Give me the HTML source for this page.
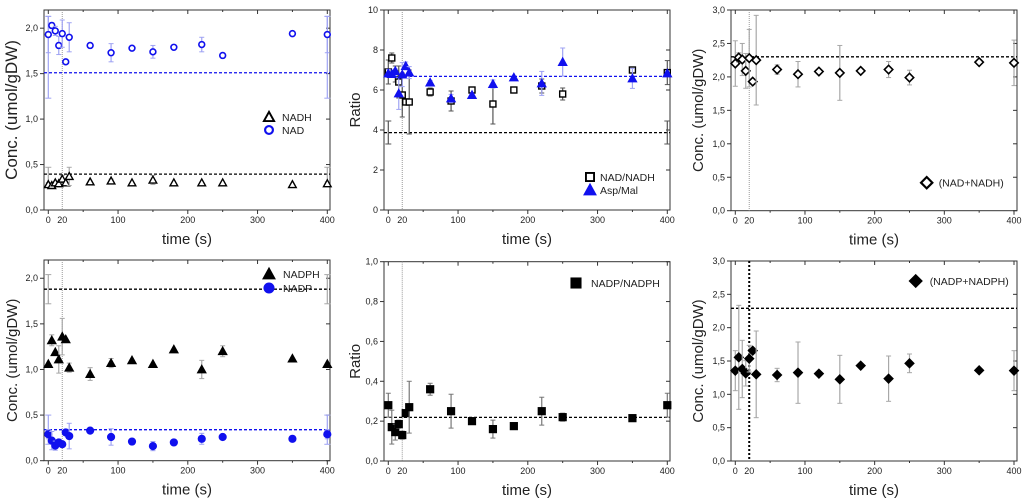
<!DOCTYPE html>
<html><head><meta charset="utf-8"><style>
html,body{margin:0;padding:0;background:#fff;}
svg{display:block;font-family:"Liberation Sans",sans-serif;}
</style></head><body>
<svg id="fig" width="1024" height="499" viewBox="0 0 1024 499" xmlns="http://www.w3.org/2000/svg"></svg>
<script>
const times=[0,5,10,15,20,25,30,60,90,120,150,180,220,250,350,400];
const xTicks=[0,20,100,200,300,400];
const nad=[1.93,2.03,1.97,1.81,1.94,1.63,1.90,1.81,1.73,1.78,1.74,1.79,1.82,1.70,1.94,1.93];
const nadErr=[0.2,0.03,0.05,0.1,0.15,0,0.16,0.02,0.1,0.02,0.07,0.02,0.08,0,0,0.2];
const nadh=[0.28,0.27,0.30,0.29,0.34,0.30,0.37,0.31,0.32,0.30,0.33,0.30,0.30,0.30,0.28,0.29];
const nadhErr=[0.02,0,0.01,0,0.04,0,0.1,0,0.02,0,0.05,0,0,0,0,0.02];
const nadRatio=[6.9,7.6,6.8,6.4,5.75,5.4,5.4,5.9,5.45,6.0,5.3,6.0,6.2,5.8,7.0,6.87];
const nadRatioErr=[0.6,0.25,0.4,0.8,1.1,0,1.6,0.2,0.5,0.1,1.0,0,0.35,0.3,0,0.6];
const aspMal=[6.83,6.8,6.95,5.83,6.77,7.2,6.87,6.37,5.58,5.75,6.3,6.63,6.33,7.4,6.58,6.83];
const aspMalErr=[0.2,0,0.1,0.8,0.6,0.2,0.3,0.1,0.2,0,0.2,0,0.6,0.7,0.5,0.1];
const nadSum=[2.20,2.29,2.26,2.09,2.28,1.93,2.25,2.11,2.04,2.08,2.06,2.09,2.11,1.99,2.22,2.21];
const nadSumErr=[0.34,0.07,0.24,0.26,0.43,0,0.67,0.07,0.19,0,0.41,0,0.12,0.11,0,0.34];
const nadph=[1.06,1.32,1.19,1.11,1.36,1.33,1.02,0.95,1.07,1.10,1.06,1.22,1.00,1.20,1.12,1.06];
const nadphErr=[0,0.06,0,0.15,0.2,0,0.05,0.07,0.05,0,0,0,0.1,0.06,0,0];
const nadp=[0.29,0.22,0.165,0.2,0.18,0.31,0.27,0.33,0.26,0.21,0.16,0.2,0.24,0.26,0.24,0.29];
const nadpErr=[0.05,0.1,0.05,0,0,0.02,0.14,0,0.09,0,0.05,0,0.06,0,0,0.05];
const nadpRatio=[0.28,0.17,0.145,0.185,0.13,0.24,0.27,0.36,0.25,0.2,0.16,0.175,0.25,0.22,0.215,0.28];
const nadpRatioErr=[0.06,0.085,0.04,0.02,0.02,0,0.13,0.03,0.085,0,0.045,0,0.07,0.02,0,0.06];
const nadpSum=[1.355,1.555,1.38,1.315,1.535,1.655,1.3,1.29,1.325,1.31,1.225,1.43,1.235,1.465,1.36,1.355];
const nadpSumErr=[0.3,0.78,0.43,0.19,0.2,0,0.65,0.1,0.46,0,0.36,0,0.34,0.14,0,0.3];

const NS="http://www.w3.org/2000/svg";
const fig=document.getElementById('fig');
function mk(tag,attrs,parent){const e=document.createElementNS(NS,tag);for(const k in attrs)e.setAttribute(k,attrs[k]);(parent||fig).appendChild(e);return e;}

function marker(g,shape,cx,cy,col,fill){
  let e;
  if(shape==='tri'){const s=fill?4.3:3.8;e=mk('polygon',{points:`${cx},${cy-s} ${cx-s},${cy+s*0.8} ${cx+s},${cy+s*0.8}`,fill:fill?col:'#fff',stroke:col,'stroke-width':fill?1:1.4},g);}
  else if(shape==='circ'){e=mk('circle',{cx:cx,cy:cy,r:fill?3.6:2.9,fill:fill?col:'#fff',stroke:col,'stroke-width':fill?1:1.6},g);}
  else if(shape==='sq'){const s=fill?3.6:3;e=mk('rect',{x:cx-s,y:cy-s,width:2*s,height:2*s,fill:fill?col:'#fff',stroke:col,'stroke-width':fill?1:1.4},g);}
  else {const s=fill?4.6:4.2;e=mk('polygon',{points:`${cx},${cy-s} ${cx+s},${cy} ${cx},${cy+s} ${cx-s},${cy}`,fill:fill?col:'#fff',stroke:col,'stroke-width':fill?1:1.6},g);}
  return e;
}

function panel(cfg){
  const g=mk('g',{});
  
  
  const X=t=>cfg.x0+(cfg.x4-cfg.x0)*t/400;
  const Y=v=>cfg.bot-(cfg.bot-cfg.top)*v/cfg.ymax;
  const fr=mk('rect',{x:cfg.left,y:cfg.top,width:cfg.right-cfg.left,height:cfg.bot-cfg.top,fill:'none',stroke:'#333','stroke-width':1},g);
  
  
  const vl=mk('line',{x1:X(20),x2:X(20),y1:cfg.top,y2:cfg.bot,stroke:cfg.vlCol||'#999','stroke-width':cfg.vlW||1,'stroke-dasharray':cfg.vlW?'2,2':'1,1'},g);
  
  
  for(let t=0;t<=400;t+=50){
    const maj=t%100===0;
    mk('line',{x1:X(t),x2:X(t),y1:cfg.bot,y2:cfg.bot+(maj?4:2),stroke:'#333'},g);
    mk('line',{x1:X(t),x2:X(t),y1:cfg.top,y2:cfg.top+(maj?4:2),stroke:'#333'},g);
  }
  xTicks.forEach(t=>{
    const tx=mk('text',{x:X(t),y:cfg.bot+13,'font-size':9,'text-anchor':'middle',fill:'#222'},g);
    tx.textContent=t;
    
    
  });
  const n=Math.round(cfg.ymax/cfg.ystep+1e-6);
  for(let i=0;i<=n;i++){
    const v=i*cfg.ystep;const y=Y(v);
    mk('line',{x1:cfg.left-4,x2:cfg.left,y1:y,y2:y,stroke:'#333'},g);
    mk('line',{x1:cfg.right-4,x2:cfg.right,y1:y,y2:y,stroke:'#333'},g);
    const ty=mk('text',{x:cfg.left-6,y:y+3,'font-size':9,'text-anchor':'end',fill:'#222'},g);
    ty.textContent=cfg.dec?v.toFixed(cfg.dec).replace('.',','):String(Math.round(v));
    
    
  }
  const xt=mk('text',{x:(cfg.left+cfg.right)/2,y:cfg.bot+34,'font-size':15,'text-anchor':'middle',fill:'#222'},g);
  xt.textContent='time (s)';
  
  
  const yt=mk('text',{x:0,y:0,'font-size':cfg.ytSize||15,'text-anchor':'middle',fill:'#222',transform:`translate(${cfg.ytx},${(cfg.top+cfg.bot)/2}) rotate(-90)`},g);
  yt.textContent=cfg.ytitle;
  
  
  cfg.series.forEach(s=>{
    const sg=mk('g',{},g);
    
    
    const rl=mk('line',{x1:cfg.left,x2:cfg.right,y1:Y(s.ref),y2:Y(s.ref),stroke:s.col,'stroke-width':1.3,'stroke-dasharray':'3,2'},sg);
    
    
    if(s.refLo!==undefined){[0,400].forEach(t=>{
      const x=X(t);
      mk('line',{x1:x,x2:x,y1:Y(s.refLo),y2:Y(s.refHi),stroke:s.errCol,'stroke-width':1.2},sg);
      mk('line',{x1:x-3,x2:x+3,y1:Y(s.refLo),y2:Y(s.refLo),stroke:s.errCol},sg);
      mk('line',{x1:x-3,x2:x+3,y1:Y(s.refHi),y2:Y(s.refHi),stroke:s.errCol},sg);
    });}
    times.forEach((t,i)=>{
      const x=X(t),v=s.vals[i],e=s.err[i];
      if(e>0){
        const eb=mk('line',{x1:x,x2:x,y1:Y(v-e),y2:Y(v+e),stroke:s.errCol,'stroke-width':1.2},sg);
        
        
        mk('line',{x1:x-2.5,x2:x+2.5,y1:Y(v-e),y2:Y(v-e),stroke:s.errCol},sg);
        mk('line',{x1:x-2.5,x2:x+2.5,y1:Y(v+e),y2:Y(v+e),stroke:s.errCol},sg);
      }
      const m=marker(sg,s.shape,x,Y(v),s.col,s.fill);
      
      
    });
  });
  cfg.legend.forEach(L=>{
    const s=cfg.series[L.i];
    const lg=mk('g',{},g);
    
    
    const m=marker(lg,s.shape,L.x,L.y,s.col,s.fill);
    m.setAttribute('transform',`translate(${L.x},${L.y}) scale(1.35) translate(${-L.x},${-L.y})`);
    const tx=mk('text',{x:L.x+L.dx,y:L.y+4,'font-size':10.5,fill:'#222'},lg);
    tx.textContent=s.label;
  });
}

const BLUE='#1010ee',BLUEERR='#9fa3f3',GREY='#a8a8a8',BLK='#000';
panel({name:'nad-nadh-panel',left:44,right:330,top:10,bot:210,x0:48.3,x4:327.3,ymax:2.2,ystep:0.5,dec:1,ytitle:'Conc. (umol/gDW)',ytx:17,ytSize:17,
  series:[
    {name:'nadh',label:'NADH',vals:nadh,err:nadhErr,shape:'tri',fill:false,col:BLK,errCol:GREY,ref:0.395,refLo:0.26,refHi:0.47},
    {name:'nad',label:'NAD',vals:nad,err:nadErr,shape:'circ',fill:false,col:BLUE,errCol:BLUEERR,ref:1.51,refLo:1.23,refHi:2.13}],
  legend:[{i:0,x:269,y:117,dx:13},{i:1,x:269,y:130,dx:13}]});
panel({name:'nad-ratio-panel',left:384,right:670,top:10,bot:210,x0:388.3,x4:667.3,ymax:10,ystep:2,dec:0,ytitle:'Ratio',ytx:360,
  series:[
    {name:'nad-nadh-ratio',label:'NAD/NADH',vals:nadRatio,err:nadRatioErr,shape:'sq',fill:false,col:BLK,errCol:'#555',ref:3.87,refLo:3.3,refHi:4.45},
    {name:'asp-mal',label:'Asp/Mal',vals:aspMal,err:aspMalErr,shape:'tri',fill:true,col:BLUE,errCol:BLUEERR,ref:6.68}],
  legend:[{i:0,x:590,y:177,dx:10},{i:1,x:590,y:190,dx:10}]});
panel({name:'nad-total-panel',left:731,right:1017,top:10,bot:210.7,x0:735.3,x4:1014,ymax:3,ystep:0.5,dec:1,ytitle:'Conc. (umol/gDW)',ytx:703,
  series:[
    {name:'nad-plus-nadh',label:'(NAD+NADH)',vals:nadSum,err:nadSumErr,shape:'dia',fill:false,col:BLK,errCol:GREY,ref:2.3}],
  legend:[{i:0,x:926.7,y:182.7,dx:12}]});
panel({name:'nadp-nadph-panel',left:44,right:330,top:260,bot:460.7,x0:48.3,x4:327.3,ymax:2.2,ystep:0.5,dec:1,ytitle:'Conc. (umol/gDW)',ytx:17,
  series:[
    {name:'nadph',label:'NADPH',vals:nadph,err:nadphErr,shape:'tri',fill:true,col:BLK,errCol:GREY,ref:1.88,refLo:1.72,refHi:2.04},
    {name:'nadp',label:'NADP',vals:nadp,err:nadpErr,shape:'circ',fill:true,col:BLUE,errCol:BLUEERR,ref:0.34,refLo:0.18,refHi:0.5}],
  legend:[{i:0,x:269,y:274,dx:14},{i:1,x:269,y:288,dx:14}]});
panel({name:'nadp-ratio-panel',left:384,right:670,top:261.7,bot:461,x0:388.3,x4:667.3,ymax:1,ystep:0.2,dec:1,ytitle:'Ratio',ytx:360,
  series:[
    {name:'nadp-nadph-ratio',label:'NADP/NADPH',vals:nadpRatio,err:nadpRatioErr,shape:'sq',fill:true,col:BLK,errCol:'#777',ref:0.219}],
  legend:[{i:0,x:576,y:283,dx:15}]});
panel({name:'nadp-total-panel',left:731,right:1017,top:261,bot:461,x0:735.3,x4:1014,ymax:3,ystep:0.5,dec:1,ytitle:'Conc. (umol/gDW)',ytx:703,vlCol:'#000',vlW:2,
  series:[
    {name:'nadp-plus-nadph',label:'(NADP+NADPH)',vals:nadpSum,err:nadpSumErr,shape:'dia',fill:true,col:BLK,errCol:GREY,ref:2.29}],
  legend:[{i:0,x:915.7,y:281,dx:14}]});
</script>
</body></html>
